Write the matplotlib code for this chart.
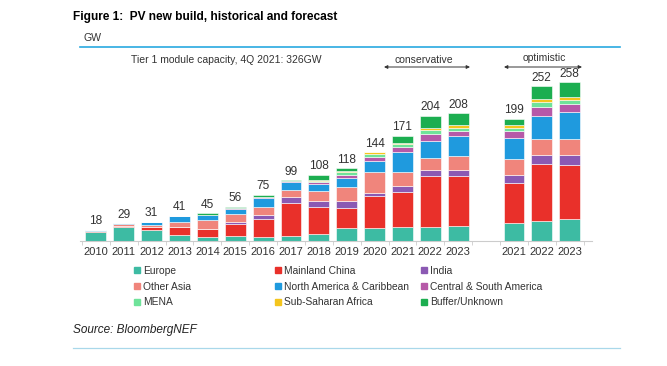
import numpy as np
import matplotlib
matplotlib.use("Agg")
import matplotlib.pyplot as plt
from matplotlib.patches import Patch

plt.rcParams["font.family"] = ["Liberation Sans", "DejaVu Sans"]

# ---- data (GW) ----
years = ["2010", "2011", "2012", "2013", "2014", "2015", "2016", "2017", "2018",
         "2019", "2020", "2021", "2022", "2023", "2021", "2022", "2023"]
totals = [18, 29, 31, 41, 45, 56, 75, 99, 108, 118, 144, 171, 204, 208, 199, 252, 258]

europe    = [15, 22, 18, 9.5, 6.5, 8, 6.5, 8, 12, 21.5, 21.5, 22, 23.5, 25, 29, 33, 36]
china     = [0.5, 3, 4, 12.5, 12.5, 20, 30, 53, 43, 32, 51, 57, 82, 80, 66, 92, 87]
india     = [0, 0, 0, 0.5, 1, 2.5, 5, 10, 10, 11, 5.5, 11, 10, 11, 12, 14.5, 16]
other_asia = [1, 2.5, 4, 9, 14.5, 13.5, 13.5, 12, 16, 24, 34, 22, 20, 22, 26, 26, 27]
north_am  = [1.5, 1.5, 5, 9.5, 8, 8.5, 14.5, 12.5, 11, 13.5, 18, 32, 27, 33, 34, 37, 44]
cs_am     = [0, 0, 0, 0, 0, 1, 1.5, 2.5, 4, 5.5, 7, 8, 11, 8, 12, 16, 12]
mena      = [0, 0, 0, 0, 0, 0, 0.5, 0, 2, 4, 4, 5.5, 7, 5.5, 5, 7, 7.5]
ssa       = [0, 0, 0, 0, 0, 0, 0, 0, 1, 1.5, 3, 2, 4, 4, 4, 6, 5]
buffer    = [0, 0, 0, 0, 2.5, 2.5, 3.5, 1, 9, 5, 0, 11.5, 19.5, 19.5, 11, 20.5, 23.5]

series = [
    ("Europe", europe, "#3dbba3"),
    ("Mainland China", china, "#e9302a"),
    ("India", india, "#8b59b3"),
    ("Other Asia", other_asia, "#f0857c"),
    ("North America & Caribbean", north_am, "#1f9ade"),
    ("Central & South America", cs_am, "#b659a8"),
    ("MENA", mena, "#6fe39a"),
    ("Sub-Saharan Africa", ssa, "#f4c51d"),
    ("Buffer/Unknown", buffer, "#1cae50"),
]

pos = np.r_[np.arange(14), np.arange(15, 18)]
TXT = "#333333"

W, H = 667, 366
fig = plt.figure(figsize=(W / 100, H / 100), dpi=100)
ax = fig.add_axes([80 / W, 1 - 241 / H, 512 / W, 178.4 / H])

bottom = np.zeros(len(pos))
for name, vals, col in series:
    v = np.array(vals, dtype=float)
    ax.bar(pos, v, 0.75, bottom=bottom, color=col, edgecolor="white", linewidth=0.4, label=name)
    bottom += v

for x, t in zip(pos, totals):
    ax.text(x, t + 4, str(t), ha="center", va="bottom", fontsize=8.6, color=TXT)

ax.set_xlim(-0.57, 17.8)
ax.set_ylim(0, 290)
ax.set_xticks(pos)
ax.set_xticklabels(years, fontsize=8, color=TXT)
ax.set_xticks(np.r_[np.arange(14) - 0.5, 13.5, np.arange(15, 18) - 0.5, 17.5], minor=True)
ax.tick_params(axis="x", which="major", length=0, pad=4)
ax.tick_params(axis="x", which="minor", length=3, color="#cccccc")
ax.set_yticks([])
for s in ["top", "right", "left"]:
    ax.spines[s].set_visible(False)
ax.spines["bottom"].set_color("#cccccc")

# ---- header / annotations ----
fig.text(73 / W, 1 - 17 / H, "Figure 1:  PV new build, historical and forecast",
         fontsize=8.6, fontweight="bold", va="center", ha="left")
fig.text(83 / W, 1 - 38 / H, "GW", fontsize=7.6, va="center", ha="left", color=TXT)
fig.add_artist(plt.Line2D([80 / W, 620 / W], [1 - 46.5 / H] * 2, color="#29a9e0", lw=1.2))
fig.text(131 / W, 1 - 60 / H, "Tier 1 module capacity, 4Q 2021: 326GW",
         fontsize=7.5, va="center", ha="left", color=TXT)
fig.text(424 / W, 1 - 60 / H, "conservative", fontsize=7.5, va="center", ha="center", color=TXT)
fig.text(544 / W, 1 - 58 / H, "optimistic", fontsize=7.5, va="center", ha="center", color=TXT)
for x0, x1 in [(384, 470), (504, 582)]:
    fig.add_artist(plt.Annotation("", xy=(x1 / W, 1 - 67 / H), xytext=(x0 / W, 1 - 67 / H),
                                  xycoords="figure fraction",
                                  arrowprops=dict(arrowstyle="<|-|>", color=TXT, lw=0.7,
                                                  mutation_scale=5, shrinkA=0, shrinkB=0)))

# ---- legend: three columns, filled row by row ----
handles = [Patch(color=c, label=n) for n, _, c in series]
for i, xcol in enumerate([134, 275, 421]):
    leg = fig.legend(handles=handles[i::3], loc="upper left",
                     bbox_to_anchor=(xcol / W, 1 - 266 / H), ncol=1, frameon=False,
                     fontsize=7.4, handlelength=0.55, handleheight=0.55,
                     handletextpad=0.3, labelspacing=0.55, borderpad=0, borderaxespad=0)
    for t in leg.get_texts():
        t.set_color(TXT)

fig.text(73 / W, 1 - 330 / H, "Source: BloombergNEF", fontsize=8.5, style="italic",
         va="center", ha="left", color="#222222")
fig.add_artist(plt.Line2D([73 / W, 620 / W], [1 - 348 / H] * 2, color="#a9d8ea", lw=0.9))

fig.savefig("out.png", dpi=100)
